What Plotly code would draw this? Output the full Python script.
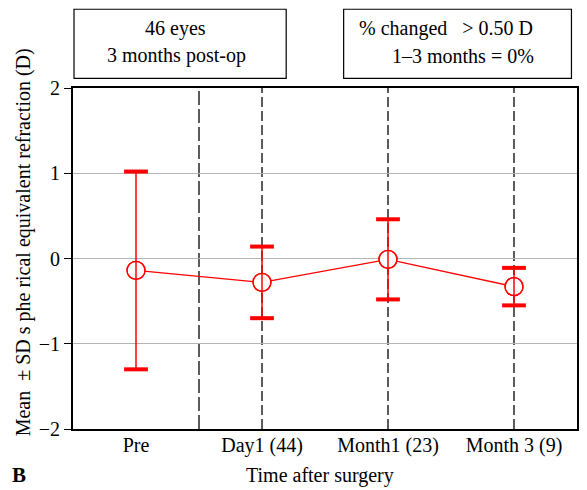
import plotly.graph_objects as go

positions = [1, 2, 3, 4]
means = [-0.14, -0.28, -0.01, -0.33]
sds = [1.16, 0.42, 0.47, 0.22]
tick_text = ["Pre", "Day1 (44)", "Month1 (23)", "Month 3 (9)"]
divider_pos = [1.5, 2, 3, 4]

RED = "#ff0000"
FONT = "Liberation Serif"

upper = [m + s for m, s in zip(means, sds)]
lower = [m - s for m, s in zip(means, sds)]

fig = go.Figure()
fig.add_trace(go.Scatter(x=positions, y=means, mode="lines+markers",
                         line=dict(color=RED, width=1.3),
                         marker=dict(symbol="circle", size=18, color="white",
                                     line=dict(color=RED, width=1.3)),
                         hoverinfo="skip", showlegend=False))
fig.add_trace(go.Scatter(x=positions, y=means, mode="markers",
                         marker=dict(symbol="circle-open", size=18, color=RED,
                                     line=dict(color=RED, width=1.3)),
                         error_y=dict(type="data", array=sds, symmetric=True,
                                      color=RED, thickness=1.5, width=0),
                         showlegend=False))
fig.add_trace(go.Scatter(x=positions + positions, y=upper + lower, mode="markers",
                         marker=dict(symbol="line-ew", size=17,
                                     line=dict(color=RED, width=4)),
                         hoverinfo="skip", showlegend=False))

shapes = []
for i, xv in enumerate(divider_pos):
    shapes.append(dict(type="line", xref="x", yref="paper", x0=xv, x1=xv, y0=0, y1=1,
                       line=dict(color="#333333", width=1.6,
                                 dash="14px,4px" if i == 0 else "10px,4px"),
                       layer="below"))
shapes.append(dict(type="rect", xref="paper", yref="paper", x0=0.002, x1=0.423,
                   y0=1.028, y1=1.231, line=dict(color="black", width=1.2)))
shapes.append(dict(type="rect", xref="paper", yref="paper", x0=0.537, x1=0.989,
                   y0=1.028, y1=1.231, line=dict(color="black", width=1.2)))

tf = dict(family=FONT, size=20, color="black")
annotations = [
    dict(text="46 eyes", x=0.2026, y=1.175, xref="paper", yref="paper",
         showarrow=False, font=tf, xanchor="center", yanchor="middle"),
    dict(text="3 months post-op", x=0.2055, y=1.095, xref="paper", yref="paper",
         showarrow=False, font=tf, xanchor="center", yanchor="middle"),
    dict(text="% changed&nbsp;&nbsp;&nbsp;&gt; 0.50 D", x=0.740, y=1.175,
         xref="paper", yref="paper",
         showarrow=False, font=tf, xanchor="center", yanchor="middle"),
    dict(text="1–3 months = 0%", x=0.774, y=1.095, xref="paper", yref="paper",
         showarrow=False, font=tf, xanchor="center", yanchor="middle"),
    dict(text="Mean&nbsp;&nbsp;± SD s phe rical equivalent refraction (D)",
         x=-0.0988, y=0.548,
         xref="paper", yref="paper", textangle=-90, showarrow=False, font=tf,
         xanchor="center", yanchor="middle"),
    dict(text="Time after surgery", x=0.491, y=-0.1377, xref="paper", yref="paper",
         showarrow=False, font=tf, xanchor="center", yanchor="middle"),
    dict(text="<b>B</b>", x=-0.107, y=-0.135, xref="paper", yref="paper",
         showarrow=False, font=dict(family=FONT, size=21, color="black"),
         xanchor="center", yanchor="middle"),
]

fig.update_layout(
    width=579, height=482,
    margin=dict(l=65, r=8, t=80, b=61),
    paper_bgcolor="white", plot_bgcolor="white",
    font=dict(family=FONT, size=20, color="black"),
    shapes=shapes, annotations=annotations,
    xaxis=dict(range=[0.5, 4.5], tickvals=positions, ticktext=tick_text,
               showgrid=False, zeroline=False, ticks="", showline=True,
               linecolor="black", linewidth=1.8, mirror=True,
               ticklabelstandoff=-3,
               tickfont=dict(family=FONT, size=20)),
    yaxis=dict(range=[-2, 2], tickvals=[-2, -1, 0, 1, 2],
               ticktext=["−2", "−1", "0", "1", "2"],
               showgrid=True, gridcolor="#b4b4b4", gridwidth=1.2, zeroline=False,
               ticks="outside", ticklen=7, tickcolor="black", tickwidth=1.2,
               showline=True, linecolor="black", linewidth=1.8, mirror=True,
               tickfont=dict(family=FONT, size=20)),
)

fig.write_html("out.html")
